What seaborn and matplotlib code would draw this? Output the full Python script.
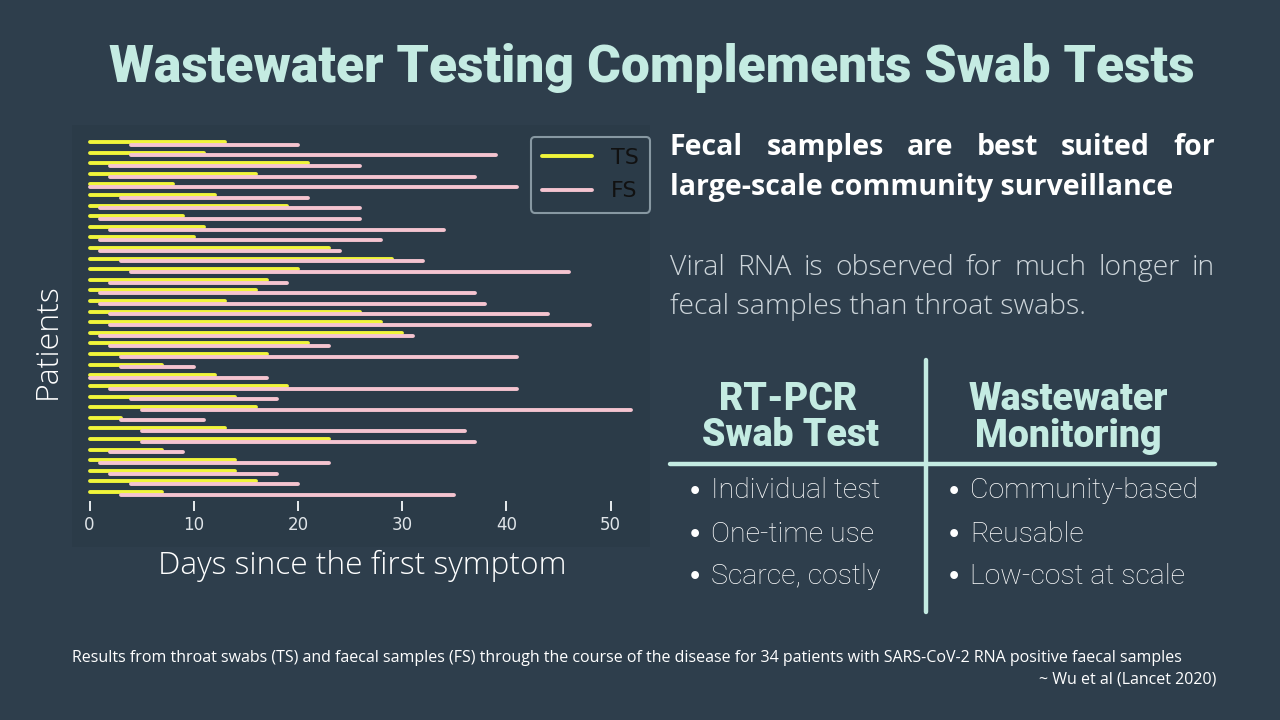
import numpy as np
import pandas as pd
import matplotlib
matplotlib.use("Agg")
import matplotlib.pyplot as plt
from matplotlib.patches import Rectangle
import seaborn as sns

# per-patient days since first symptom
ts_end   = [13, 11, 21, 16, 8, 12, 19, 9, 11, 10, 23, 29, 20, 17, 16, 13, 26,
            28, 30, 21, 17, 7, 12, 19, 14, 16, 3, 13, 23, 7, 14, 14, 16, 7]
fs_start = [4, 4, 2, 2, 0, 3, 1, 1, 2, 1, 1, 3, 4, 2, 1, 1, 2,
            2, 1, 2, 3, 3, 0, 2, 4, 5, 3, 5, 5, 2, 1, 2, 4, 3]
fs_end   = [20, 39, 26, 37, 41, 21, 26, 26, 34, 28, 24, 32, 46, 19, 37, 38, 44,
            48, 31, 23, 41, 10, 17, 41, 18, 52, 11, 36, 37, 9, 23, 18, 20, 35]
x_ticks  = [0, 10, 20, 30, 40, 50]

BG     = "#2e3e4c"
PANEL  = "#2b3b48"
MINT   = "#c4ebe2"
YELLOW = "#f0f53a"
PINK   = "#f5c4d0"
W, H = 1280, 720

sns.set_style("dark", {"axes.facecolor": "none", "figure.facecolor": BG})
plt.rcParams["font.family"] = ["Open Sans", "DejaVu Sans"]

fig = plt.figure(figsize=(12.8, 7.2), dpi=100, facecolor=BG)

def fx(x): return x / W
def fy(y): return 1 - y / H

# chart panel (slightly darker screenshot background), kept behind the axes
fig.patches.append(Rectangle((fx(72), fy(547)), (650 - 72) / W, (547 - 125) / H,
                             transform=fig.transFigure, facecolor=PANEL,
                             edgecolor="none", zorder=-5))

# long-form table of line segments
rows = []
for i in range(len(ts_end)):
    p = i + 1
    rows.append({"seg": f"t{p}", "kind": "TS", "day": 0, "y": p})
    rows.append({"seg": f"t{p}", "kind": "TS", "day": ts_end[i], "y": p})
    rows.append({"seg": f"f{p}", "kind": "FS", "day": fs_start[i], "y": p + 0.26})
    rows.append({"seg": f"f{p}", "kind": "FS", "day": fs_end[i], "y": p + 0.26})
df = pd.DataFrame(rows)

ax = fig.add_axes([fx(72), fy(501), (650 - 72) / W, (501 - 125) / H])
ax.set_facecolor("none")
sns.lineplot(data=df, x="day", y="y", hue="kind", units="seg", estimator=None,
             sort=False, palette={"TS": YELLOW, "FS": PINK}, lw=2.8, ax=ax)

ax.set_xlim((72 - 89.5) / 10.42, (650 - 89.5) / 10.42)
ax.set_ylim(34.85, -0.6)
ax.set_xticks(x_ticks)
ax.set_yticks([])
ax.tick_params(axis="x", bottom=True, length=7, width=1.4, color="#e8ecef",
               labelcolor="#dfe4e8", labelsize=12, pad=4)
for lab in ax.get_xticklabels():
    lab.set_fontfamily("DejaVu Sans")
for s in ax.spines.values():
    s.set_visible(False)
ax.grid(False)
ax.set_xlabel("")
ax.set_ylabel("")

handles, labels = ax.get_legend_handles_labels()
leg = ax.legend(handles, labels, loc="upper right", bbox_to_anchor=(1.0, 0.968),
                borderaxespad=0, handlelength=2.25, handletextpad=0.85,
                labelspacing=0.6, borderpad=0.5, frameon=True, fancybox=True,
                facecolor="none", edgecolor="#9fb0b9",
                prop={"family": "DejaVu Sans", "size": 16})
for t in leg.get_texts():
    t.set_color("#111111")
for h in leg.get_lines():
    h.set_linewidth(2.8)
leg.get_frame().set_linewidth(1.5)

fig.text(fx(362), fy(566), "Days since the first symptom", ha="center", va="center",
         color="white", fontsize=22.8, fontweight="light")
fig.text(fx(48), fy(341), "Patients", ha="center", va="center", rotation=90,
         color="white", fontsize=23, fontweight="light")

# title
fig.text(fx(652), fy(68), "Wastewater Testing Complements Swab Tests", ha="center",
         va="center", color=MINT, fontsize=37.2, fontweight="heavy",
         family=["Liberation Sans Narrow", "Roboto", "DejaVu Sans"])

renderer = fig.canvas.get_renderer()

def justified(line, x0, x1, y, **kw):
    words = line.split()
    texts = [fig.text(0, 0, w, ha="left", va="baseline", **kw) for w in words]
    widths = [t.get_window_extent(renderer).width for t in texts]
    gap = (x1 - x0 - sum(widths)) / (len(words) - 1)
    x = x0
    for t, w in zip(texts, widths):
        t.set_position((fx(x), fy(y)))
        x += w + gap

bold = dict(color="white", fontsize=20.5, fontweight="bold")
justified("Fecal samples are best suited for", 670, 1215, 155, **bold)
fig.text(fx(670), fy(195), "large-scale community surveillance", ha="left", va="baseline", **bold)

light = dict(color="#cdd5da", fontsize=20.4, fontweight="light")
justified("Viral RNA is observed for much longer in", 670, 1215, 275, **light)
fig.text(fx(670), fy(314), "fecal samples than throat swabs.", ha="left", va="baseline", **light)

# comparison table
fig.add_artist(plt.Line2D([fx(670), fx(1215)], [fy(464), fy(464)], color=MINT, lw=3.2))
fig.add_artist(plt.Line2D([fx(926), fx(926)], [fy(360), fy(612)], color=MINT, lw=3.2))

head = dict(ha="center", va="center", color=MINT, fontsize=27, fontweight="heavy",
            family=["Liberation Sans Narrow", "Roboto", "DejaVu Sans"])
fig.text(fx(788), fy(399), "RT-PCR", **head)
fig.text(fx(790), fy(436), "Swab Test", **head)
fig.text(fx(1068), fy(399), "Wastewater", **head)
fig.text(fx(1068), fy(437), "Monitoring", **head)

left_items = ["Individual test", "One-time use", "Scarce, costly"]
right_items = ["Community-based", "Reusable", "Low-cost at scale"]
bullet_y = [491, 534, 576]
item = dict(ha="left", va="center", color="white", fontsize=20.5, fontweight="light",
            family=["Liberation Sans Narrow", "Roboto", "DejaVu Sans"])
dot = dict(ha="center", va="center", color="white", fontsize=16, fontweight="bold",
           family=["DejaVu Sans"])
for yy, a, b in zip(bullet_y, left_items, right_items):
    fig.text(fx(695), fy(yy + 1), "•", **dot)
    fig.text(fx(711), fy(yy), a, **item)
    fig.text(fx(954), fy(yy + 1), "•", **dot)
    fig.text(fx(970), fy(yy), b, **item)

# footnote
fig.text(fx(72), fy(658), "Results from throat swabs (TS) and faecal samples (FS) through the course "
         "of the disease for 34 patients with SARS-CoV-2 RNA positive faecal samples",
         ha="left", va="center", color="white", fontsize=11.5)
fig.text(fx(1216), fy(679), "~ Wu et al (Lancet 2020)", ha="right", va="center",
         color="white", fontsize=11.5)

fig.savefig("out.png", dpi=100, facecolor=BG)
